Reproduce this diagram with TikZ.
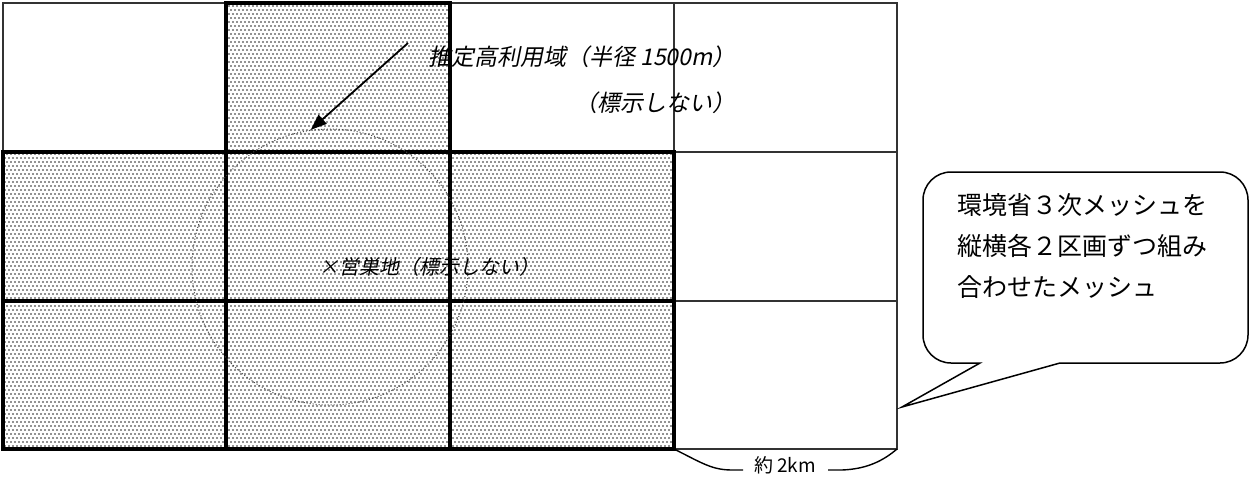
\documentclass[tikz,border=0pt]{standalone}
\usepackage{fontspec}
\newfontfamily\jp{Noto Sans CJK JP}
\newfontfamily\jpit[FakeSlant=0.2]{Noto Sans CJK JP}
\usetikzlibrary{arrows.meta,patterns}
\pgfdeclarepatternformonly{meshdots}{\pgfqpoint{-1pt}{-1pt}}{\pgfqpoint{5pt}{9pt}}{\pgfqpoint{4pt}{8pt}}{%
  \pgfpathcircle{\pgfqpoint{1pt}{1pt}}{0.85pt}%
  \pgfpathcircle{\pgfqpoint{3pt}{5pt}}{0.85pt}%
  \pgfusepath{fill}}
\begin{document}
\begin{tikzpicture}[x=1pt,y=-1pt,
  thinline/.style={line width=1.4pt, draw=black!80},
  thickline/.style={line width=4.5pt, draw=black},
  shadecell/.style={pattern=meshdots, pattern color=black!85},
  rangecircle/.style={draw=black!70, circle, dash pattern=on 1pt off 2pt, line width=1pt, minimum size=276pt, inner sep=0pt},
  arrowline/.style={line width=1.8pt, -{Triangle[length=16pt,width=12pt]}},
  itlabel/.style={font=\jpit\fontsize{23pt}{27pt}\selectfont, inner sep=0pt, anchor=base east},
  sitelabel/.style={font=\jpit\fontsize{20pt}{24pt}\selectfont, inner sep=0pt, anchor=base west},
  calltext/.style={font=\jp\fontsize{25pt}{30pt}\selectfont, inner sep=0pt, anchor=base west},
  sizelabel/.style={font=\jp\fontsize{19pt}{23pt}\selectfont, inner sep=0pt, anchor=base west},
  calloutline/.style={line width=1.5pt, draw=black, fill=white, line join=miter}
]
\useasboundingbox (0,0) rectangle (1250,479);
\fill[white] (0,0) rectangle (1250,479);

% shaded cells
\fill[shadecell] (226,3) rectangle (450,152);
\fill[shadecell] (3,152) rectangle (674,449);

% thin grid lines
\draw[thinline] (3,152) -- (3,3) -- (897,3) -- (897,449) -- (674,449);
\draw[thinline] (674,3) -- (674,152);
\draw[thinline] (674,152) -- (897,152);
\draw[thinline] (674,301) -- (897,301);

% thick borders of shaded cells
\draw[thickline] (226,3) rectangle (450,152);
\draw[thickline] (3,152) rectangle (674,449);
\draw[thickline] (226,152) -- (226,449);
\draw[thickline] (450,152) -- (450,449);
\draw[thickline] (3,301) -- (674,301);

% estimated range circle
\node[rangecircle] (range) at (330,267) {};

% labels
\node[itlabel] (rangelbl) at (736,65) {推定高利用域（半径 1500m）};
\node[itlabel] (rangelbl2) at (736,111) {（標示しない）};
\node[sitelabel] (site) at (319,274) {×営巣地（標示しない）};

\coordinate (arrowstart) at (408,43);
\draw[arrowline] (arrowstart) -- (range.98);

% callout
\draw[calloutline] (980,363) -- (902,407) -- (1060,363) -- (1220,363)
  arc[start angle=90, end angle=0, radius=28] -- (1248,200)
  arc[start angle=0, end angle=-90, radius=28] -- (951,172)
  arc[start angle=-90, end angle=-180, radius=28] -- (923,335)
  arc[start angle=180, end angle=90, radius=28] -- cycle;
\node[calltext] (call1) at (957,214) {環境省３次メッシュを};
\node[calltext] (call2) at (957,255) {縦横各２区画ずつ組み};
\node[calltext] (call3) at (957,296) {合わせたメッシュ};

% size brace
\node[sizelabel] (size) at (754,472) {約 2km};
\coordinate (braceL) at (674,449);
\coordinate (braceLend) at (743,470);
\coordinate (braceRstart) at (828,470);
\coordinate (braceR) at (897,449);
\draw[thinline, draw=black] (braceL) .. controls (702,463) and (712,470) .. (732,470) -- (braceLend);
\draw[thinline, draw=black] (braceRstart) -- (842,470) .. controls (868,469) and (884,460) .. (braceR);
\end{tikzpicture}
\end{document}
